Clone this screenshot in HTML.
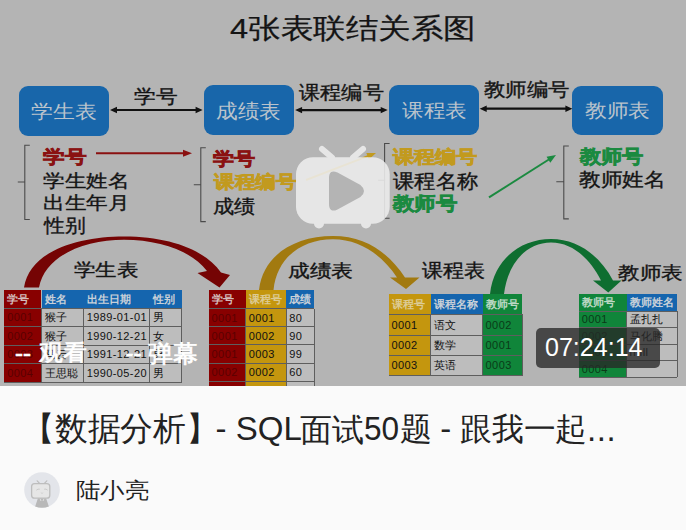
<!DOCTYPE html>
<html><head><meta charset="utf-8">
<style>
*{margin:0;padding:0;box-sizing:border-box}
html,body{width:686px;height:530px;overflow:hidden;background:#fafafa;font-family:"Liberation Sans",sans-serif}
#thumb{position:absolute;left:0;top:0;width:686px;height:386px;background:#b4b4b4;overflow:hidden}
.a{position:absolute;white-space:nowrap;line-height:1}
.c{position:absolute;white-space:nowrap;overflow:hidden;padding-left:3px}
</style></head><body>
<div id="thumb">

<div class="a" style="left:230.4px;top:14.8px;font-size:28.0px;letter-spacing:0.0px;transform-origin:0 0;transform:scaleX(1.1625);color:#141414;-webkit-text-stroke:0.25px #141414;">4张表联结关系图</div>
<div class="a" style="left:19px;top:85.5px;width:90px;height:50px;background:#1866aa;border-radius:9px"></div>
<div class="a" style="left:204px;top:85.3px;width:90px;height:49.5px;background:#1866aa;border-radius:9px"></div>
<div class="a" style="left:389px;top:85.3px;width:90px;height:49.5px;background:#1866aa;border-radius:9px"></div>
<div class="a" style="left:572px;top:85.8px;width:90.5px;height:49.6px;background:#1866aa;border-radius:9px"></div>
<div class="a" style="left:31.4px;top:102.6px;font-size:18.5px;letter-spacing:0.0px;transform-origin:0 0;transform:scaleX(1.1509);color:#bac3cc;">学生表</div>
<div class="a" style="left:216.4px;top:100.9px;font-size:20.0px;letter-spacing:0.0px;transform-origin:0 0;transform:scaleX(1.0821);color:#bac3cc;">成绩表</div>
<div class="a" style="left:402.2px;top:101.8px;font-size:18.75px;letter-spacing:0.0px;transform-origin:0 0;transform:scaleX(1.1354);color:#bac3cc;">课程表</div>
<div class="a" style="left:585.4px;top:102.2px;font-size:18.5px;letter-spacing:0.0px;transform-origin:0 0;transform:scaleX(1.1421);color:#bac3cc;">教师表</div>
<div class="a" style="left:133.6px;top:87.2px;font-size:19.25px;letter-spacing:0.0px;transform-origin:0 0;transform:scaleX(1.1429);color:#141414;-webkit-text-stroke:0.35px #141414;">学号</div>
<div class="a" style="left:299.0px;top:83.4px;font-size:19.25px;letter-spacing:0.0px;transform-origin:0 0;transform:scaleX(1.1166);color:#141414;-webkit-text-stroke:0.35px #141414;">课程编号</div>
<div class="a" style="left:484.2px;top:80.4px;font-size:19.0px;letter-spacing:0.0px;transform-origin:0 0;transform:scaleX(1.1267);color:#141414;-webkit-text-stroke:0.35px #141414;">教师编号</div>
<div class="a" style="left:42.6px;top:148.9px;font-size:17.75px;letter-spacing:0.0px;transform-origin:0 0;transform:scaleX(1.2029);color:#8a1212;font-weight:bold;-webkit-text-stroke:0.6px #8a1212;">学号</div>
<div class="a" style="left:42.8px;top:172.5px;font-size:17.75px;letter-spacing:0.0px;transform-origin:0 0;transform:scaleX(1.1971);color:#141414;-webkit-text-stroke:0.35px #141414;">学生姓名</div>
<div class="a" style="left:42.9px;top:194.4px;font-size:18.0px;letter-spacing:0.0px;transform-origin:0 0;transform:scaleX(1.2015);color:#141414;-webkit-text-stroke:0.35px #141414;">出生年月</div>
<div class="a" style="left:44.0px;top:216.6px;font-size:18.75px;letter-spacing:0.0px;transform-origin:0 0;transform:scaleX(1.0946);color:#141414;-webkit-text-stroke:0.35px #141414;">性别</div>
<div class="a" style="left:213.0px;top:150.0px;font-size:18.25px;letter-spacing:0.0px;transform-origin:0 0;transform:scaleX(1.169);color:#8a1212;font-weight:bold;-webkit-text-stroke:0.6px #8a1212;">学号</div>
<div class="a" style="left:213.6px;top:173.0px;font-size:18.0px;letter-spacing:0.0px;transform-origin:0 0;transform:scaleX(1.1431);color:#c29a1e;font-weight:bold;-webkit-text-stroke:0.6px #c29a1e;">课程编号</div>
<div class="a" style="left:213.0px;top:197.4px;font-size:19.25px;letter-spacing:0.0px;transform-origin:0 0;transform:scaleX(1.1156);color:#141414;-webkit-text-stroke:0.35px #141414;">成绩</div>
<div class="a" style="left:392.8px;top:148.1px;font-size:18.0px;letter-spacing:0.0px;transform-origin:0 0;transform:scaleX(1.1736);color:#c29a1e;font-weight:bold;-webkit-text-stroke:0.6px #c29a1e;">课程编号</div>
<div class="a" style="left:392.9px;top:171.8px;font-size:19.5px;letter-spacing:0.0px;transform-origin:0 0;transform:scaleX(1.0658);color:#141414;-webkit-text-stroke:0.35px #141414;">课程名称</div>
<div class="a" style="left:392.8px;top:194.6px;font-size:18.5px;letter-spacing:0.0px;transform-origin:0 0;transform:scaleX(1.1271);color:#1b8a40;font-weight:bold;-webkit-text-stroke:0.6px #1b8a40;">教师号</div>
<div class="a" style="left:580.0px;top:147.6px;font-size:18.75px;letter-spacing:0.0px;transform-origin:0 0;transform:scaleX(1.1172);color:#1b8a40;font-weight:bold;-webkit-text-stroke:0.6px #1b8a40;">教师号</div>
<div class="a" style="left:579.2px;top:171.3px;font-size:18.75px;letter-spacing:0.0px;transform-origin:0 0;transform:scaleX(1.1393);color:#141414;-webkit-text-stroke:0.35px #141414;">教师姓名</div>
<svg style="position:absolute;left:0;top:0" width="686" height="386">
<line x1="116" y1="110" x2="196.6" y2="110" stroke="#111" stroke-width="2.2"/>
<path d="M110,110 L117,106.8 L117,113.2 Z M202.6,110 L195.6,106.8 L195.6,113.2 Z" fill="#111"/>
<line x1="301.1" y1="110.1" x2="381.7" y2="110.1" stroke="#111" stroke-width="2.2"/>
<path d="M295.1,110.1 L302.1,106.89999999999999 L302.1,113.3 Z M387.7,110.1 L380.7,106.89999999999999 L380.7,113.3 Z" fill="#111"/>
<line x1="485.7" y1="108.7" x2="566.4" y2="108.7" stroke="#111" stroke-width="2.2"/>
<path d="M479.7,108.7 L486.7,105.5 L486.7,111.9 Z M572.4,108.7 L565.4,105.5 L565.4,111.9 Z" fill="#111"/>
<path d="M29.8,145.2 L24.8,145.2 L24.8,219.5 L29.8,219.5 M24.8,182 L17.8,182" stroke="#4a4a4a" stroke-width="1.1" fill="none"/>
<path d="M205.8,147.8 L200.8,147.8 L200.8,221.6 L205.8,221.6 M200.8,184.7 L193.8,184.7" stroke="#4a4a4a" stroke-width="1.1" fill="none"/>
<path d="M389.6,143.5 L384.6,143.5 L384.6,218.3 L389.6,218.3 M384.6,180.3 L378.1,180.3" stroke="#4a4a4a" stroke-width="1.1" fill="none"/>
<path d="M568.8,146 L563.8,146 L563.8,218.9 L568.8,218.9 M563.8,181.8 L556.3,181.8" stroke="#4a4a4a" stroke-width="1.1" fill="none"/>
<line x1="96" y1="153.2" x2="184.0" y2="153.2" stroke="#8a1010" stroke-width="2"/>
<path d="M192,153.2 L183.00,156.70 L183.00,149.70 Z" fill="#8a1010"/>
<line x1="306" y1="180" x2="368.53598673308545" y2="155.8789765458099" stroke="#c29a1e" stroke-width="2"/>
<path d="M376,153 L368.86,159.50 L366.34,152.97 Z" fill="#c29a1e"/>
<line x1="489" y1="197.4" x2="549.239927571663" y2="159.2780159844999" stroke="#1b8a40" stroke-width="2"/>
<path d="M556,155 L550.27,162.77 L546.52,156.86 Z" fill="#1b8a40"/>
<path d="M24,287.5 C30,250 80,236.5 124,236.5 C170,236.5 205,250 221,272.5 L230,275 L219.5,287.5 L197.5,273 L207,271 C192,251 160,240 124,239.8 C85,240 45,255 39,287.5 Z" fill="#750404"/>
<path d="M259,290 C263,255 295,236 333,236 C365,236 388,252 405,277.5 L419.5,277.5 L406,289 L390,277.5 L397,277.5 C382,255 360,239.3 333,239.2 C302,239.3 277,257 273.5,290 Z" fill="#a27a10"/>
<path d="M490,294 C494,258 522,239 551,239 C578,239 600,256 613,280.4 L621.5,280.4 L608.3,292.6 L593,280.4 L601,280.4 C590,259 573,242.5 551,242.5 C527,242.5 508,262 504,294 Z" fill="#0e6e30"/>
</svg>
<div class="a" style="left:4.2px;top:290.2px;width:37.3px;height:18.0px;background:#880000"></div>
<div class="a" style="left:4.2px;top:308.2px;width:37.3px;height:74.5px;background:#880000"></div>
<div class="a" style="left:41.5px;top:290.2px;width:42.2px;height:18.0px;background:#1565ae"></div>
<div class="a" style="left:41.5px;top:308.2px;width:42.2px;height:74.5px;background:#bdbdbd"></div>
<div class="a" style="left:83.7px;top:290.2px;width:65.89999999999999px;height:18.0px;background:#1565ae"></div>
<div class="a" style="left:83.7px;top:308.2px;width:65.89999999999999px;height:74.5px;background:#bdbdbd"></div>
<div class="a" style="left:149.6px;top:290.2px;width:32.0px;height:18.0px;background:#1565ae"></div>
<div class="a" style="left:149.6px;top:308.2px;width:32.0px;height:74.5px;background:#bdbdbd"></div>
<div class="a" style="left:4.2px;top:307.7px;width:177.4px;height:1px;background:#5e5e5e"></div>
<div class="a" style="left:4.2px;top:326.2px;width:177.4px;height:1px;background:#5e5e5e"></div>
<div class="a" style="left:4.2px;top:344.8px;width:177.4px;height:1px;background:#5e5e5e"></div>
<div class="a" style="left:4.2px;top:363.2px;width:177.4px;height:1px;background:#5e5e5e"></div>
<div class="a" style="left:4.2px;top:382.2px;width:177.4px;height:1px;background:#5e5e5e"></div>
<div class="a" style="left:41.0px;top:308.2px;width:1px;height:74.5px;background:#5e5e5e"></div>
<div class="a" style="left:83.2px;top:308.2px;width:1px;height:74.5px;background:#5e5e5e"></div>
<div class="a" style="left:149.1px;top:308.2px;width:1px;height:74.5px;background:#5e5e5e"></div>
<div class="a" style="left:181.1px;top:308.2px;width:1px;height:74.5px;background:#5e5e5e"></div>
<div class="c" style="left:4.2px;top:290.2px;height:18.0px;line-height:18.0px;font-size:11px;font-weight:bold;color:#d4bcbc">学号</div>
<div class="c" style="left:41.5px;top:290.2px;height:18.0px;line-height:18.0px;font-size:11px;font-weight:bold;color:#c8d0d8">姓名</div>
<div class="c" style="left:83.7px;top:290.2px;height:18.0px;line-height:18.0px;font-size:11px;font-weight:bold;color:#c8d0d8">出生日期</div>
<div class="c" style="left:149.6px;top:290.2px;height:18.0px;line-height:18.0px;font-size:11px;font-weight:bold;color:#c8d0d8">性别</div>
<div class="c" style="left:4.2px;top:308.2px;height:18.5px;line-height:18.5px;font-size:11px;letter-spacing:0.4px;color:#5a0000">0001</div>
<div class="c" style="left:41.5px;top:308.2px;height:18.5px;line-height:18.5px;font-size:11px;letter-spacing:0.4px;color:#111">猴子</div>
<div class="c" style="left:83.7px;top:308.2px;height:18.5px;line-height:18.5px;font-size:11px;letter-spacing:0.4px;color:#111">1989-01-01</div>
<div class="c" style="left:149.6px;top:308.2px;height:18.5px;line-height:18.5px;font-size:11px;letter-spacing:0.4px;color:#111">男</div>
<div class="c" style="left:4.2px;top:326.7px;height:18.600000000000023px;line-height:18.600000000000023px;font-size:11px;letter-spacing:0.4px;color:#5a0000">0002</div>
<div class="c" style="left:41.5px;top:326.7px;height:18.600000000000023px;line-height:18.600000000000023px;font-size:11px;letter-spacing:0.4px;color:#111">猴子</div>
<div class="c" style="left:83.7px;top:326.7px;height:18.600000000000023px;line-height:18.600000000000023px;font-size:11px;letter-spacing:0.4px;color:#111">1990-12-21</div>
<div class="c" style="left:149.6px;top:326.7px;height:18.600000000000023px;line-height:18.600000000000023px;font-size:11px;letter-spacing:0.4px;color:#111">女</div>
<div class="c" style="left:4.2px;top:345.3px;height:18.399999999999977px;line-height:18.399999999999977px;font-size:11px;letter-spacing:0.4px;color:#5a0000">0003</div>
<div class="c" style="left:41.5px;top:345.3px;height:18.399999999999977px;line-height:18.399999999999977px;font-size:11px;letter-spacing:0.4px;color:#111">马云</div>
<div class="c" style="left:83.7px;top:345.3px;height:18.399999999999977px;line-height:18.399999999999977px;font-size:11px;letter-spacing:0.4px;color:#111">1991-12-21</div>
<div class="c" style="left:149.6px;top:345.3px;height:18.399999999999977px;line-height:18.399999999999977px;font-size:11px;letter-spacing:0.4px;color:#111">男</div>
<div class="c" style="left:4.2px;top:363.7px;height:19.0px;line-height:19.0px;font-size:11px;letter-spacing:0.4px;color:#5a0000">0004</div>
<div class="c" style="left:41.5px;top:363.7px;height:19.0px;line-height:19.0px;font-size:11px;letter-spacing:0.4px;color:#111">王思聪</div>
<div class="c" style="left:83.7px;top:363.7px;height:19.0px;line-height:19.0px;font-size:11px;letter-spacing:0.4px;color:#111">1990-05-20</div>
<div class="c" style="left:149.6px;top:363.7px;height:19.0px;line-height:19.0px;font-size:11px;letter-spacing:0.4px;color:#111">男</div>
<div class="a" style="left:208.6px;top:290.4px;width:37.20000000000002px;height:18.100000000000023px;background:#880000"></div>
<div class="a" style="left:208.6px;top:308.5px;width:37.20000000000002px;height:90.5px;background:#880000"></div>
<div class="a" style="left:245.8px;top:290.4px;width:40.39999999999998px;height:18.100000000000023px;background:#c4960e"></div>
<div class="a" style="left:245.8px;top:308.5px;width:40.39999999999998px;height:90.5px;background:#c4960e"></div>
<div class="a" style="left:286.2px;top:290.4px;width:28.100000000000023px;height:18.100000000000023px;background:#1565ae"></div>
<div class="a" style="left:286.2px;top:308.5px;width:28.100000000000023px;height:90.5px;background:#bdbdbd"></div>
<div class="a" style="left:208.6px;top:308.0px;width:105.70000000000002px;height:1px;background:#5e5e5e"></div>
<div class="a" style="left:208.6px;top:326.2px;width:105.70000000000002px;height:1px;background:#5e5e5e"></div>
<div class="a" style="left:208.6px;top:344.3px;width:105.70000000000002px;height:1px;background:#5e5e5e"></div>
<div class="a" style="left:208.6px;top:362.5px;width:105.70000000000002px;height:1px;background:#5e5e5e"></div>
<div class="a" style="left:208.6px;top:380.5px;width:105.70000000000002px;height:1px;background:#5e5e5e"></div>
<div class="a" style="left:208.6px;top:398.5px;width:105.70000000000002px;height:1px;background:#5e5e5e"></div>
<div class="a" style="left:245.3px;top:308.5px;width:1px;height:90.5px;background:#5e5e5e"></div>
<div class="a" style="left:285.7px;top:308.5px;width:1px;height:90.5px;background:#5e5e5e"></div>
<div class="a" style="left:313.8px;top:308.5px;width:1px;height:90.5px;background:#5e5e5e"></div>
<div class="c" style="left:208.6px;top:290.4px;height:18.100000000000023px;line-height:18.100000000000023px;font-size:11px;font-weight:bold;color:#d4bcbc">学号</div>
<div class="c" style="left:245.8px;top:290.4px;height:18.100000000000023px;line-height:18.100000000000023px;font-size:11px;font-weight:bold;color:#dccb94">课程号</div>
<div class="c" style="left:286.2px;top:290.4px;height:18.100000000000023px;line-height:18.100000000000023px;font-size:11px;font-weight:bold;color:#c8d0d8">成绩</div>
<div class="c" style="left:208.6px;top:308.5px;height:18.19999999999999px;line-height:18.19999999999999px;font-size:11px;letter-spacing:0.4px;color:#5a0000">0001</div>
<div class="c" style="left:245.8px;top:308.5px;height:18.19999999999999px;line-height:18.19999999999999px;font-size:11px;letter-spacing:0.4px;color:#111">0001</div>
<div class="c" style="left:286.2px;top:308.5px;height:18.19999999999999px;line-height:18.19999999999999px;font-size:11px;letter-spacing:0.4px;color:#111">80</div>
<div class="c" style="left:208.6px;top:326.7px;height:18.100000000000023px;line-height:18.100000000000023px;font-size:11px;letter-spacing:0.4px;color:#5a0000">0001</div>
<div class="c" style="left:245.8px;top:326.7px;height:18.100000000000023px;line-height:18.100000000000023px;font-size:11px;letter-spacing:0.4px;color:#111">0002</div>
<div class="c" style="left:286.2px;top:326.7px;height:18.100000000000023px;line-height:18.100000000000023px;font-size:11px;letter-spacing:0.4px;color:#111">90</div>
<div class="c" style="left:208.6px;top:344.8px;height:18.19999999999999px;line-height:18.19999999999999px;font-size:11px;letter-spacing:0.4px;color:#5a0000">0001</div>
<div class="c" style="left:245.8px;top:344.8px;height:18.19999999999999px;line-height:18.19999999999999px;font-size:11px;letter-spacing:0.4px;color:#111">0003</div>
<div class="c" style="left:286.2px;top:344.8px;height:18.19999999999999px;line-height:18.19999999999999px;font-size:11px;letter-spacing:0.4px;color:#111">99</div>
<div class="c" style="left:208.6px;top:363px;height:18px;line-height:18px;font-size:11px;letter-spacing:0.4px;color:#5a0000">0002</div>
<div class="c" style="left:245.8px;top:363px;height:18px;line-height:18px;font-size:11px;letter-spacing:0.4px;color:#111">0002</div>
<div class="c" style="left:286.2px;top:363px;height:18px;line-height:18px;font-size:11px;letter-spacing:0.4px;color:#111">60</div>
<div class="c" style="left:208.6px;top:381px;height:18px;line-height:18px;font-size:11px;letter-spacing:0.4px;color:#5a0000">0002</div>
<div class="c" style="left:245.8px;top:381px;height:18px;line-height:18px;font-size:11px;letter-spacing:0.4px;color:#111">0003</div>
<div class="c" style="left:286.2px;top:381px;height:18px;line-height:18px;font-size:11px;letter-spacing:0.4px;color:#111">80</div>
<div class="a" style="left:388.5px;top:294px;width:42.19999999999999px;height:20.5px;background:#c4960e"></div>
<div class="a" style="left:388.5px;top:314.5px;width:42.19999999999999px;height:61.10000000000002px;background:#c4960e"></div>
<div class="a" style="left:430.7px;top:294px;width:51.900000000000034px;height:20.5px;background:#1565ae"></div>
<div class="a" style="left:430.7px;top:314.5px;width:51.900000000000034px;height:61.10000000000002px;background:#bdbdbd"></div>
<div class="a" style="left:482.6px;top:294px;width:39.89999999999998px;height:20.5px;background:#10853a"></div>
<div class="a" style="left:482.6px;top:314.5px;width:39.89999999999998px;height:61.10000000000002px;background:#10853a"></div>
<div class="a" style="left:388.5px;top:314.0px;width:134.0px;height:1px;background:#5e5e5e"></div>
<div class="a" style="left:388.5px;top:334.5px;width:134.0px;height:1px;background:#5e5e5e"></div>
<div class="a" style="left:388.5px;top:354.8px;width:134.0px;height:1px;background:#5e5e5e"></div>
<div class="a" style="left:388.5px;top:375.1px;width:134.0px;height:1px;background:#5e5e5e"></div>
<div class="a" style="left:430.2px;top:314.5px;width:1px;height:61.10000000000002px;background:#5e5e5e"></div>
<div class="a" style="left:482.1px;top:314.5px;width:1px;height:61.10000000000002px;background:#5e5e5e"></div>
<div class="a" style="left:522.0px;top:314.5px;width:1px;height:61.10000000000002px;background:#5e5e5e"></div>
<div class="c" style="left:388.5px;top:294px;height:20.5px;line-height:20.5px;font-size:11px;font-weight:bold;color:#dccb94">课程号</div>
<div class="c" style="left:430.7px;top:294px;height:20.5px;line-height:20.5px;font-size:11px;font-weight:bold;color:#c8d0d8">课程名称</div>
<div class="c" style="left:482.6px;top:294px;height:20.5px;line-height:20.5px;font-size:11px;font-weight:bold;color:#bcd8c4">教师号</div>
<div class="c" style="left:388.5px;top:314.5px;height:20.5px;line-height:20.5px;font-size:11px;letter-spacing:0.4px;color:#111">0001</div>
<div class="c" style="left:430.7px;top:314.5px;height:20.5px;line-height:20.5px;font-size:11px;letter-spacing:0.4px;color:#111">语文</div>
<div class="c" style="left:482.6px;top:314.5px;height:20.5px;line-height:20.5px;font-size:11px;letter-spacing:0.4px;color:#0a3a18">0002</div>
<div class="c" style="left:388.5px;top:335px;height:20.30000000000001px;line-height:20.30000000000001px;font-size:11px;letter-spacing:0.4px;color:#111">0002</div>
<div class="c" style="left:430.7px;top:335px;height:20.30000000000001px;line-height:20.30000000000001px;font-size:11px;letter-spacing:0.4px;color:#111">数学</div>
<div class="c" style="left:482.6px;top:335px;height:20.30000000000001px;line-height:20.30000000000001px;font-size:11px;letter-spacing:0.4px;color:#0a3a18">0001</div>
<div class="c" style="left:388.5px;top:355.3px;height:20.30000000000001px;line-height:20.30000000000001px;font-size:11px;letter-spacing:0.4px;color:#111">0003</div>
<div class="c" style="left:430.7px;top:355.3px;height:20.30000000000001px;line-height:20.30000000000001px;font-size:11px;letter-spacing:0.4px;color:#111">英语</div>
<div class="c" style="left:482.6px;top:355.3px;height:20.30000000000001px;line-height:20.30000000000001px;font-size:11px;letter-spacing:0.4px;color:#0a3a18">0003</div>
<div class="a" style="left:578.8px;top:294.3px;width:47.80000000000007px;height:16.69999999999999px;background:#10853a"></div>
<div class="a" style="left:578.8px;top:311px;width:47.80000000000007px;height:66.39999999999998px;background:#10853a"></div>
<div class="a" style="left:626.6px;top:294.3px;width:50.39999999999998px;height:16.69999999999999px;background:#1565ae"></div>
<div class="a" style="left:626.6px;top:311px;width:50.39999999999998px;height:66.39999999999998px;background:#bdbdbd"></div>
<div class="a" style="left:578.8px;top:310.5px;width:98.20000000000005px;height:1px;background:#5e5e5e"></div>
<div class="a" style="left:578.8px;top:327.0px;width:98.20000000000005px;height:1px;background:#5e5e5e"></div>
<div class="a" style="left:578.8px;top:343.5px;width:98.20000000000005px;height:1px;background:#5e5e5e"></div>
<div class="a" style="left:578.8px;top:360.3px;width:98.20000000000005px;height:1px;background:#5e5e5e"></div>
<div class="a" style="left:578.8px;top:376.9px;width:98.20000000000005px;height:1px;background:#5e5e5e"></div>
<div class="a" style="left:626.1px;top:311px;width:1px;height:66.39999999999998px;background:#5e5e5e"></div>
<div class="a" style="left:676.5px;top:311px;width:1px;height:66.39999999999998px;background:#5e5e5e"></div>
<div class="c" style="left:578.8px;top:294.3px;height:16.69999999999999px;line-height:16.69999999999999px;font-size:11px;font-weight:bold;color:#bcd8c4">教师号</div>
<div class="c" style="left:626.6px;top:294.3px;height:16.69999999999999px;line-height:16.69999999999999px;font-size:11px;font-weight:bold;color:#c8d0d8">教师姓名</div>
<div class="c" style="left:578.8px;top:311px;height:16.5px;line-height:16.5px;font-size:11px;letter-spacing:0.4px;color:#0a3a18">0001</div>
<div class="c" style="left:626.6px;top:311px;height:16.5px;line-height:16.5px;font-size:11px;letter-spacing:0.4px;color:#111">孟扎扎</div>
<div class="c" style="left:578.8px;top:327.5px;height:16.5px;line-height:16.5px;font-size:11px;letter-spacing:0.4px;color:#0a3a18">0002</div>
<div class="c" style="left:626.6px;top:327.5px;height:16.5px;line-height:16.5px;font-size:11px;letter-spacing:0.4px;color:#111">马化腾</div>
<div class="c" style="left:578.8px;top:344px;height:16.80000000000001px;line-height:16.80000000000001px;font-size:11px;letter-spacing:0.4px;color:#0a3a18">0003</div>
<div class="c" style="left:626.6px;top:344px;height:16.80000000000001px;line-height:16.80000000000001px;font-size:11px;letter-spacing:0.4px;color:#111">null</div>
<div class="c" style="left:578.8px;top:360.8px;height:16.599999999999966px;line-height:16.599999999999966px;font-size:11px;letter-spacing:0.4px;color:#0a3a18">0004</div>
<div class="c" style="left:626.6px;top:360.8px;height:16.599999999999966px;line-height:16.599999999999966px;font-size:11px;letter-spacing:0.4px;color:#111"></div>
<div class="a" style="left:74.4px;top:260.8px;font-size:18.25px;letter-spacing:0.0px;transform-origin:0 0;transform:scaleX(1.1943);color:#141414;-webkit-text-stroke:0.35px #141414;">学生表</div>
<div class="a" style="left:287.8px;top:262.1px;font-size:18.25px;letter-spacing:0.0px;transform-origin:0 0;transform:scaleX(1.2076);color:#141414;-webkit-text-stroke:0.35px #141414;">成绩表</div>
<div class="a" style="left:421.5px;top:261.0px;font-size:19.0px;letter-spacing:0.0px;transform-origin:0 0;transform:scaleX(1.1071);color:#141414;-webkit-text-stroke:0.35px #141414;">课程表</div>
<div class="a" style="left:618.0px;top:264.6px;font-size:17.5px;letter-spacing:0.0px;transform-origin:0 0;transform:scaleX(1.2);color:#141414;-webkit-text-stroke:0.35px #141414;">教师表</div>
<svg style="position:absolute;left:0;top:0" width="686" height="386">
<g opacity="0.88">
<path d="M322,149 L332,157.5 M363,149 L353,157.5" stroke="#eeeeee" stroke-width="6" stroke-linecap="round"/>
<rect x="296" y="157.3" width="93.7" height="66.4" rx="17" fill="#eeeeee"/>
<rect x="314" y="218" width="10" height="10.4" rx="5" fill="#eeeeee"/>
<rect x="361" y="218" width="10" height="10.4" rx="5" fill="#eeeeee"/>
</g>
<path d="M330,178 Q330,170 337,173.5 L360,186 Q366,191 360,196 L337,208.5 Q330,212 330,204 Z" fill="#b4b4b4" stroke="#b4b4b4" stroke-width="2" stroke-linejoin="round"/>
</svg>
<div class="a" style="left:15.1px;top:341.4px;font-size:24.0px;letter-spacing:0.0px;transform-origin:0 0;transform:scaleX(1.0);color:#fff;-webkit-text-stroke:0.7px #fff;">--</div>
<div class="a" style="left:39.0px;top:342.1px;font-size:22.25px;letter-spacing:0.0px;transform-origin:0 0;transform:scaleX(1.0837);color:#fff;-webkit-text-stroke:0.7px #fff;">观看</div>
<div class="a" style="left:125.6px;top:341.4px;font-size:24.0px;letter-spacing:0.0px;transform-origin:0 0;transform:scaleX(1.0);color:#fff;-webkit-text-stroke:0.7px #fff;">--</div>
<div class="a" style="left:148.4px;top:341.6px;font-size:23.75px;letter-spacing:0.0px;transform-origin:0 0;transform:scaleX(1.037);color:#fff;-webkit-text-stroke:0.7px #fff;">弹幕</div>
<div class="a" style="left:535.8px;top:327.8px;width:124px;height:40.1px;background:rgba(40,40,40,0.78);border-radius:5px"></div>
<div class="a" style="left:545.1px;top:335.2px;font-size:25.75px;letter-spacing:0.0px;transform-origin:0 0;transform:scaleX(0.9726);color:#fff;">07:24:14</div>
</div>
<div class="a" style="left:21.7px;top:412.4px;font-size:33.0px;letter-spacing:0.0px;transform-origin:0 0;transform:scaleX(0.9949);color:#222;">【数据分析】</div>
<div class="a" style="left:215.6px;top:411.5px;font-size:33.0px;letter-spacing:0.0px;transform-origin:0 0;transform:scaleX(1.0);color:#222;">- SQL</div>
<div class="a" style="left:300.0px;top:413.6px;font-size:32.0px;letter-spacing:0.0px;transform-origin:0 0;transform:scaleX(1.0032);color:#222;">面试</div>
<div class="a" style="left:363.8px;top:411.8px;font-size:33.0px;letter-spacing:0.0px;transform-origin:0 0;transform:scaleX(0.9559);color:#222;">50</div>
<div class="a" style="left:399.8px;top:412.8px;font-size:32.0px;letter-spacing:0.0px;transform-origin:0 0;transform:scaleX(1.0);color:#222;">题</div>
<div class="a" style="left:440.2px;top:411.5px;font-size:33.0px;letter-spacing:0.0px;transform-origin:0 0;transform:scaleX(1.0);color:#222;">-</div>
<div class="a" style="left:459.8px;top:412.6px;font-size:32.0px;letter-spacing:0.0px;transform-origin:0 0;transform:scaleX(0.9932);color:#222;">跟我一起</div>
<div class="a" style="left:587.0px;top:413.0px;font-size:33.0px;letter-spacing:0.6px;transform-origin:0 0;transform:scaleX(1.0);color:#222;">...</div>
<svg style="position:absolute;left:0;top:0" width="686" height="530">
<defs><clipPath id="avc"><circle cx="42" cy="490" r="17.8"/></clipPath></defs>
<circle cx="42" cy="490" r="17.8" fill="#e3e5ea"/>
<g clip-path="url(#avc)">
<path d="M38,498 L46,498 L49.5,508.5 L34.5,508.5 Z" fill="#b8b8b8"/>
<path d="M40,498.5 L41,501 M44,498.5 L43,501" stroke="#e8e8e8" stroke-width="0.8"/>
</g>
<path d="M37.2,480.8 L39.8,483.6 M46.8,480.8 L44.2,483.6" stroke="#bdbdbd" stroke-width="1.2" stroke-linecap="round"/>
<rect x="31.6" y="483.6" width="18.2" height="14.6" rx="3" fill="#e6e6e6" stroke="#bdbdbd" stroke-width="1.3"/>
<path d="M36.3,490.2 Q38,488.6 39.8,489.2 M44.2,489.2 Q46,488.6 47.7,490.2" stroke="#c6c6c6" stroke-width="0.9" fill="none"/>
<path d="M40.8,492.6 Q41.4,493.6 42,492.8 Q42.6,493.6 43.2,492.6" stroke="#c6c6c6" stroke-width="0.7" fill="none"/>
</svg>
<div class="a" style="left:76.0px;top:479.9px;font-size:21.75px;letter-spacing:0.0px;transform-origin:0 0;transform:scaleX(1.1099);color:#222;">陆小亮</div>
</body></html>
